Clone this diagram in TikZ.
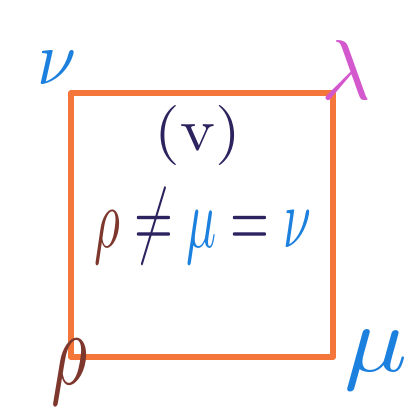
\documentclass[tikz,border=0pt]{standalone}
\usepackage{graphicx}
\definecolor{sqorange}{RGB}{245,118,58}
\definecolor{penblue}{RGB}{28,128,222}
\definecolor{penbrown}{RGB}{125,55,45}
\definecolor{pennavy}{RGB}{45,35,95}
\definecolor{penpink}{RGB}{212,88,205}
\tikzset{
  edge/.style={draw=sqorange, line width=6pt, line join=round, line cap=round},
  lbl/.style={inner sep=0pt, outer sep=0pt},
}
\begin{document}
\begin{tikzpicture}[x=1pt,y=-1pt]
  \useasboundingbox[fill=white] (0,0) rectangle (418,411);
  % corners
  \coordinate (cnu) at (71,93);
  \coordinate (clam) at (333,93);
  \coordinate (cmu) at (333,357);
  \coordinate (crho) at (71,357);
  \draw[edge] (cnu) -- (clam) -- (cmu) -- (crho) -- cycle;
  % corner labels
  \node[lbl, text=penblue] (nu) at (57,68) {\scalebox{7}[7.7]{$\nu$}};
  \node[lbl, text=penpink] (lam) at (346,70) {\scalebox{8.5}{$\lambda$}};
  \node[lbl, text=penbrown] (rho) at (70,372) {\scalebox{7}[10.5]{$\rho$}};
  \node[lbl, text=penblue] (mu) at (376,360) {\scalebox{10.5}[9.5]{$\mu$}};
  % centre texts
  \node[lbl, text=pennavy] (case) at (198,136) {\scalebox{6.6}[6]{(v)}};
  \node[lbl] (rel) at (203,226) {\scalebox{5}[8.5]{$
    {\color{penbrown}\rho}\mathrel{\color{pennavy}\neq}{\color{penblue}\mu}\mathrel{\color{pennavy}=}{\color{penblue}\nu}$}};
\end{tikzpicture}
\end{document}
